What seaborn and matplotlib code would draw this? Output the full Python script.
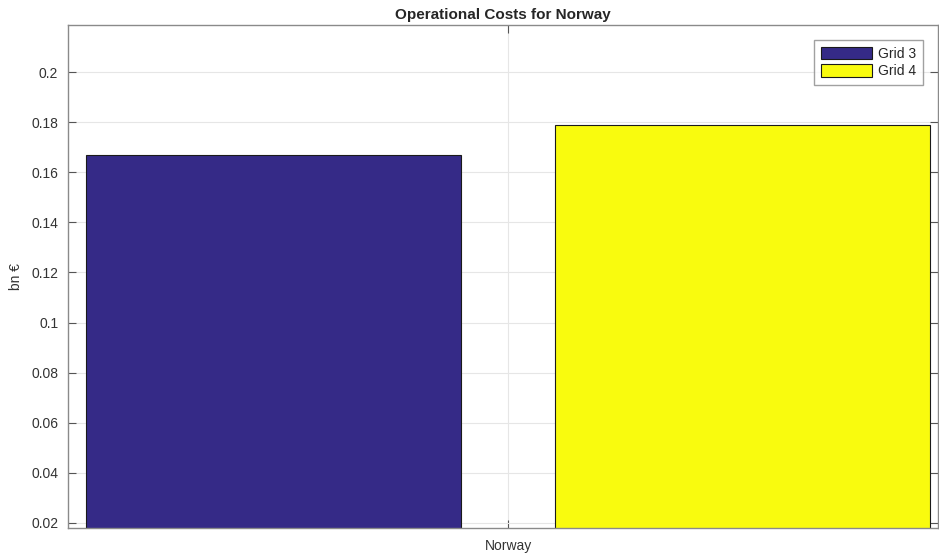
import matplotlib
matplotlib.use('Agg')
import matplotlib.pyplot as plt
import seaborn as sns
import pandas as pd

# data
countries = ['Norway', 'Norway']
grids = ['Grid 3', 'Grid 4']
costs = [0.1668, 0.1788]
palette = {'Grid 3': '#352A87', 'Grid 4': '#F9FB0E'}

df = pd.DataFrame({'Country': countries, 'Grid': grids, 'Cost': costs})

sns.set_style('white')
plt.rcParams['font.family'] = ['Liberation Sans', 'DejaVu Sans']

fig = plt.figure(figsize=(9.39, 5.54), dpi=100)
ax = fig.add_axes([68 / 939, 1 - 528 / 554, 870 / 939, 503 / 554])

sns.barplot(data=df, x='Country', y='Cost', hue='Grid', palette=palette,
            width=0.8, gap=0.2, edgecolor='#1a1a1a', linewidth=0.8,
            saturation=1, ax=ax)

ax.set_xlim(-0.3753, 0.3667)
ax.set_ylim(0.018, 0.2188)
ax.set_yticks([0.02, 0.04, 0.06, 0.08, 0.1, 0.12, 0.14, 0.16, 0.18, 0.2])
ax.set_yticklabels(['0.02', '0.04', '0.06', '0.08', '0.1', '0.12', '0.14', '0.16', '0.18', '0.2'])

ax.grid(True, color='#e6e6e6', linewidth=0.8)
ax.set_axisbelow(True)
for s in ax.spines.values():
    s.set_color('#8a8a8a')
    s.set_linewidth(1.0)
ax.tick_params(direction='in', length=6, color='#555555', labelcolor='#333333',
               labelsize=10, top=True, right=True, left=True, bottom=True)
ax.tick_params(axis='y', pad=7)
ax.tick_params(axis='x', pad=8)

ax.set_title('Operational Costs for Norway', fontsize=11, fontweight='bold', pad=4)
ax.set_ylabel('bn €', fontsize=10, color='#333333', labelpad=6)
ax.set_xlabel('')

leg = ax.legend(loc='upper right', fontsize=10, frameon=True, fancybox=False,
                handlelength=3.7, handleheight=1.0, borderpad=0.45,
                labelspacing=0.28, handletextpad=0.45, borderaxespad=1.1)
leg.get_frame().set_edgecolor('#8a8a8a')
leg.get_frame().set_linewidth(1.0)

fig.savefig('out.png', dpi=100)
plt.close(fig)
